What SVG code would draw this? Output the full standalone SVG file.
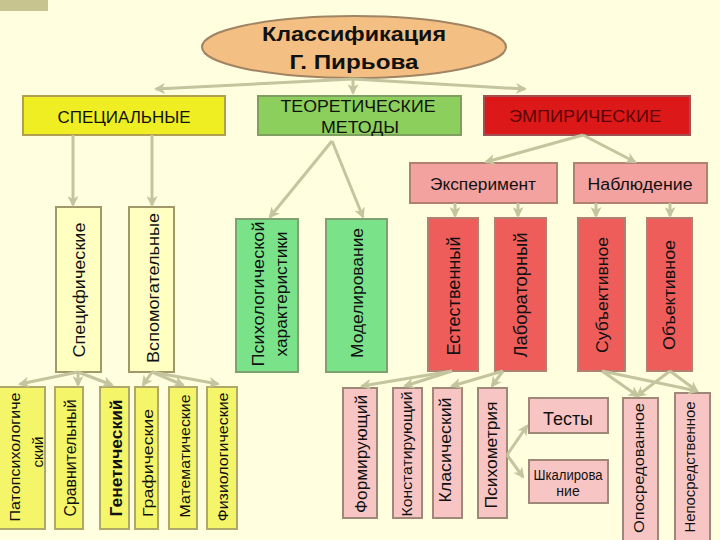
<svg xmlns="http://www.w3.org/2000/svg" width="720" height="540" viewBox="0 0 720 540">
<defs>
<marker id="ah" markerWidth="11" markerHeight="11" refX="9" refY="5.5" orient="auto" markerUnits="userSpaceOnUse">
<path d="M0,0 L11,5.5 L0,11 L3,5.5 z" fill="#c4c49e"/>
</marker>
<style>
.bg{fill:#ffffe0}
.c line{stroke:#c4c49e;stroke-width:3;marker-end:url(#ah)}
text{font-family:"Liberation Sans",Arial,sans-serif;fill:#111}
.v{text-anchor:middle;dominant-baseline:central;lengthAdjust:spacingAndGlyphs}
.h{text-anchor:middle}
.hy{fill:#eeee22;stroke:#b0a050;stroke-width:2}
.ht{fill:#8ccf5c;stroke:#7f9f60;stroke-width:2}
.he{fill:#dd1818;stroke:#a05050;stroke-width:2}
.ly{fill:#ffffc2;stroke:#a09868;stroke-width:2}
.by{fill:#f5f56a;stroke:#b0a868;stroke-width:2}
.gr{fill:#7ae38a;stroke:#7fa070;stroke-width:2}
.rd{fill:#ef5d5b;stroke:#b08070;stroke-width:2}
.sa{fill:#f4a2a0;stroke:#b08070;stroke-width:2}
.pk{fill:#f7c6c4;stroke:#a08878;stroke-width:2}
</style>
</defs>
<rect class="bg" x="0" y="0" width="720" height="540"/>
<rect x="0" y="0" width="48" height="11" fill="#c8c490"/>

<g id="root">
<ellipse cx="354" cy="47" rx="152" ry="31" fill="#f4bf82" stroke="#a08464" stroke-width="2"/>
<text class="h" x="354" y="41" font-size="21" font-weight="bold" textLength="184" lengthAdjust="spacingAndGlyphs">Классификация</text>
<text class="h" x="354" y="69" font-size="21" font-weight="bold" textLength="129" lengthAdjust="spacingAndGlyphs">Г. Пирьова</text>
</g>

<g id="special"><rect class="hy" x="23" y="96" width="202" height="39"/>
<text class="h" x="124" y="123" font-size="16" textLength="133" lengthAdjust="spacingAndGlyphs">СПЕЦИАЛЬНЫЕ</text></g>
<g id="theory"><rect class="ht" x="258" y="96" width="203" height="39"/>
<text class="h" x="358" y="112" font-size="16" textLength="155" lengthAdjust="spacingAndGlyphs">ТЕОРЕТИЧЕСКИЕ</text>
<text class="h" x="360" y="133" font-size="16" textLength="78" lengthAdjust="spacingAndGlyphs">МЕТОДЫ</text></g>
<g id="empiric"><rect class="he" x="484" y="96" width="206" height="39"/>
<text class="h" x="585" y="122" font-size="16" textLength="152" lengthAdjust="spacingAndGlyphs" style="fill:#5a0505">ЭМПИРИЧЕСКИЕ</text></g>

<g id="experiment"><rect class="sa" x="410" y="163" width="147" height="40"/>
<text class="h" x="483" y="190" font-size="16" textLength="106" lengthAdjust="spacingAndGlyphs">Эксперимент</text></g>
<g id="observation"><rect class="sa" x="574" y="163" width="133" height="40"/>
<text class="h" x="640" y="190" font-size="16" textLength="105" lengthAdjust="spacingAndGlyphs">Наблюдение</text></g>

<g id="specific"><rect class="ly" x="56" y="207" width="45" height="165"/>
<text class="v" transform="translate(79,290) rotate(-90)" font-size="17" textLength="135" lengthAdjust="spacingAndGlyphs">Специфические</text></g>
<g id="auxiliary"><rect class="ly" x="129" y="207" width="45" height="165"/>
<text class="v" transform="translate(153,288) rotate(-90)" font-size="17" textLength="150" lengthAdjust="spacingAndGlyphs">Вспомогательные</text></g>
<g id="psychchar"><rect class="gr" x="236" y="219" width="62" height="153"/>
<text class="v" transform="translate(258,294) rotate(-90)" font-size="16" textLength="145" lengthAdjust="spacingAndGlyphs">Психологической</text>
<text class="v" transform="translate(281,294) rotate(-90)" font-size="16" textLength="125" lengthAdjust="spacingAndGlyphs">характеристики</text></g>
<g id="modeling"><rect class="gr" x="326" y="219" width="61" height="153"/>
<text class="v" transform="translate(357,293) rotate(-90)" font-size="17" textLength="130" lengthAdjust="spacingAndGlyphs">Моделирование</text></g>
<g id="natural"><rect class="rd" x="428" y="218" width="50" height="153"/>
<text class="v" transform="translate(454,296) rotate(-90)" font-size="18" textLength="119" lengthAdjust="spacingAndGlyphs">Естественный</text></g>
<g id="lab"><rect class="rd" x="495" y="218" width="51" height="153"/>
<text class="v" transform="translate(521,295) rotate(-90)" font-size="18" textLength="125" lengthAdjust="spacingAndGlyphs">Лабораторный</text></g>
<g id="subjective"><rect class="rd" x="578" y="218" width="47" height="153"/>
<text class="v" transform="translate(602,295) rotate(-90)" font-size="17" textLength="116" lengthAdjust="spacingAndGlyphs">Субъективное</text></g>
<g id="objective"><rect class="rd" x="647" y="218" width="45" height="153"/>
<text class="v" transform="translate(669,295) rotate(-90)" font-size="17" textLength="110" lengthAdjust="spacingAndGlyphs">Объективное</text></g>

<g id="patho"><rect class="by" x="-2" y="387" width="47" height="142"/>
<text class="v" transform="translate(14,457) rotate(-90)" font-size="15" textLength="129" lengthAdjust="spacingAndGlyphs">Патопсихологиче</text>
<text class="v" transform="translate(37,452) rotate(-90)" font-size="15" textLength="31" lengthAdjust="spacingAndGlyphs">ский</text></g>
<g id="compar"><rect class="by" x="55" y="387" width="28" height="142"/>
<text class="v" transform="translate(70,458) rotate(-90)" font-size="16" textLength="117" lengthAdjust="spacingAndGlyphs">Сравнительный</text></g>
<g id="genetic"><rect class="by" x="100" y="387" width="29" height="142"/>
<text class="v" transform="translate(116,458) rotate(-90)" font-size="17" font-weight="bold" textLength="117" lengthAdjust="spacingAndGlyphs">Генетический</text></g>
<g id="graph"><rect class="by" x="135" y="387" width="23" height="142"/>
<text class="v" transform="translate(147,463) rotate(-90)" font-size="15" textLength="108" lengthAdjust="spacingAndGlyphs">Графические</text></g>
<g id="math"><rect class="by" x="169" y="387" width="28" height="142"/>
<text class="v" transform="translate(184,456) rotate(-90)" font-size="15" textLength="123" lengthAdjust="spacingAndGlyphs">Математические</text></g>
<g id="physio"><rect class="by" x="207" y="387" width="30" height="142"/>
<text class="v" transform="translate(222,457) rotate(-90)" font-size="15" textLength="129" lengthAdjust="spacingAndGlyphs">Физиологические</text></g>

<g id="forming"><rect class="pk" x="343" y="388" width="34" height="130"/>
<text class="v" transform="translate(361,454) rotate(-90)" font-size="17" textLength="118" lengthAdjust="spacingAndGlyphs">Формирующий</text></g>
<g id="stating"><rect class="pk" x="393" y="388" width="29" height="130"/>
<text class="v" transform="translate(407,454) rotate(-90)" font-size="14" textLength="125" lengthAdjust="spacingAndGlyphs">Констатирующий</text></g>
<g id="classic"><rect class="pk" x="433" y="388" width="29" height="130"/>
<text class="v" transform="translate(445,450) rotate(-90)" font-size="17" textLength="105" lengthAdjust="spacingAndGlyphs">Класический</text></g>
<g id="psychometry"><rect class="pk" x="478" y="388" width="29" height="130"/>
<text class="v" transform="translate(491,455) rotate(-90)" font-size="17" textLength="107" lengthAdjust="spacingAndGlyphs">Психометрия</text></g>
<g id="tests"><rect class="pk" x="529" y="398" width="79" height="35"/>
<text class="h" x="568" y="425" font-size="18" textLength="50" lengthAdjust="spacingAndGlyphs">Тесты</text></g>
<g id="scaling"><rect class="pk" x="529" y="460" width="79" height="43"/>
<text class="h" x="568" y="480" font-size="14" textLength="69" lengthAdjust="spacingAndGlyphs">Шкалирова</text>
<text class="h" x="568" y="496" font-size="14">ние</text></g>
<g id="mediated"><rect class="pk" x="623" y="398" width="35" height="145"/>
<text class="v" transform="translate(638,468) rotate(-90)" font-size="15" textLength="130" lengthAdjust="spacingAndGlyphs">Опосредованное</text></g>
<g id="direct"><rect class="pk" x="675" y="393" width="35" height="150"/>
<text class="v" transform="translate(690,467) rotate(-90)" font-size="14" textLength="131" lengthAdjust="spacingAndGlyphs">Непосредственное</text></g>

<g id="connectors" class="c">
<line x1="353" y1="79" x2="156" y2="89"/>
<line x1="353" y1="79" x2="353" y2="93"/>
<line x1="353" y1="79" x2="525" y2="89"/>
<line x1="73" y1="135" x2="73" y2="205"/>
<line x1="152" y1="135" x2="152" y2="205"/>
<line x1="332" y1="141" x2="270" y2="217"/>
<line x1="332" y1="141" x2="363" y2="217"/>
<line x1="583" y1="135" x2="486" y2="162"/>
<line x1="583" y1="135" x2="635" y2="162"/>
<line x1="455" y1="203" x2="455" y2="216"/>
<line x1="518" y1="203" x2="518" y2="216"/>
<line x1="596" y1="203" x2="596" y2="216"/>
<line x1="670" y1="203" x2="670" y2="216"/>
<line x1="78" y1="372" x2="20" y2="384"/>
<line x1="78" y1="372" x2="78" y2="385"/>
<line x1="78" y1="372" x2="112" y2="385"/>
<line x1="152" y1="372" x2="143" y2="385"/>
<line x1="152" y1="372" x2="183" y2="385"/>
<line x1="152" y1="372" x2="218" y2="384"/>
<line x1="452" y1="371" x2="362" y2="386"/>
<line x1="452" y1="371" x2="405" y2="386"/>
<line x1="503" y1="371" x2="452" y2="386"/>
<line x1="503" y1="371" x2="492" y2="386"/>
<line x1="602" y1="371" x2="638" y2="396"/>
<line x1="602" y1="371" x2="697" y2="391"/>
<line x1="670" y1="371" x2="637" y2="396"/>
<line x1="670" y1="371" x2="697" y2="391"/>
<line x1="507" y1="455" x2="527" y2="426"/>
<line x1="507" y1="455" x2="523" y2="477"/>
</g>
</svg>
